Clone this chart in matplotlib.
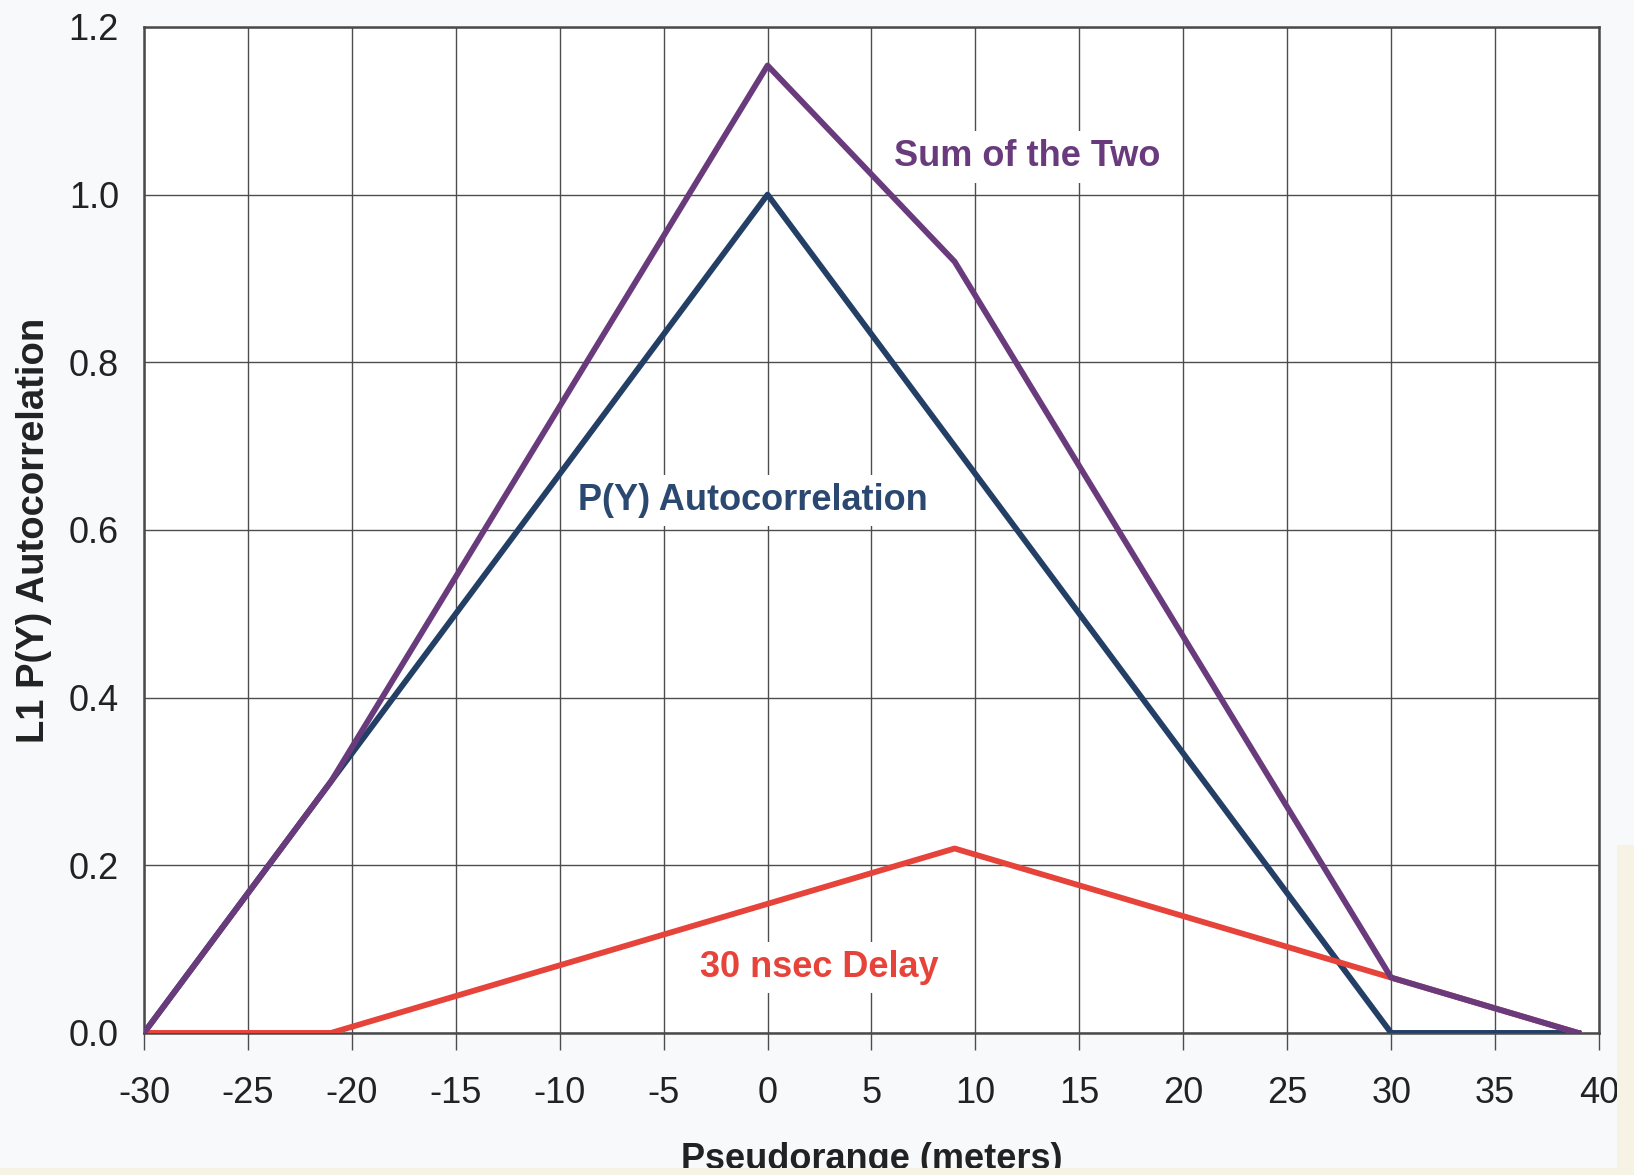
import matplotlib.pyplot as plt
from matplotlib.patches import Rectangle

# breakpoints of the correlation triangles (pseudorange in meters)
x_pts = [-30, -21, 0, 9, 30, 39]
py_corr = [0.0, 0.30, 1.00, 0.70, 0.0, 0.0]
delay_corr = [0.0, 0.0, 0.154, 0.22, 0.066, 0.0]
sum_corr = [a + b for a, b in zip(py_corr, delay_corr)]

x_ticks = list(range(-30, 41, 5))
y_ticks = [0.0, 0.2, 0.4, 0.6, 0.8, 1.0, 1.2]

c_py = '#243f66'
c_delay = '#e6433a'
c_sum = '#6a3b7c'

plt.rcParams['font.family'] = ['Liberation Sans', 'DejaVu Sans']

fig = plt.figure(figsize=(16.34, 11.75), dpi=100)
fig.patch.set_facecolor('#f8f9fb')
ax = fig.add_axes([0.0881, 0.1209, 0.8905, 0.8562])
ax.set_facecolor('white')

ax.plot(x_pts, py_corr, color=c_py, lw=4.2, zorder=3)
ax.plot(x_pts, delay_corr, color=c_delay, lw=4.2, zorder=4)
ax.plot(x_pts, sum_corr, color=c_sum, lw=4.2, zorder=5)

ax.set_xlim(-30, 40)
ax.set_ylim(0, 1.2)
ax.set_xticks(x_ticks)
ax.set_xticklabels([str(t) for t in x_ticks])
ax.set_yticks(y_ticks)
ax.set_yticklabels(['%.1f' % t for t in y_ticks])
ax.grid(True, color='#4d4d4d', lw=1.0, zorder=1)
ax.set_axisbelow(True)
ax.tick_params(axis='x', direction='out', length=12, width=1.0, color='#4d4d4d',
               pad=19, labelsize=26, labelcolor='#222222')
ax.tick_params(axis='y', length=0, pad=18, labelsize=26, labelcolor='#222222')
for s in ax.spines.values():
    s.set_color('#4a4a4a')
    s.set_linewidth(1.8)

ax.set_xlabel('Pseudorange (meters)', fontsize=26, fontweight='bold', color='#222222', labelpad=22)
ax.set_ylabel('L1 P(Y) Autocorrelation', fontsize=27.5, fontweight='bold', color='#222222', labelpad=12)

box = dict(facecolor='white', edgecolor='none', pad=6)
ax.text(12.5, 1.045, 'Sum of the Two', color=c_sum, fontsize=26, fontweight='bold',
        ha='center', va='center', bbox=box, zorder=6)
ax.text(-0.7, 0.635, 'P(Y) Autocorrelation', color='#2b4870', fontsize=26, fontweight='bold',
        ha='center', va='center', bbox=box, zorder=6)
ax.text(2.5, 0.078, '30 nsec Delay', color=c_delay, fontsize=26, fontweight='bold',
        ha='center', va='center', bbox=box, zorder=6)

# scanner edge along the bottom and right side
fig.add_artist(Rectangle((0, 0), 1, 7 / 1175, transform=fig.transFigure,
                         facecolor='#f7f3e4', edgecolor='none', zorder=10))
fig.add_artist(Rectangle((1617 / 1634, 0), 17 / 1634, 330 / 1175, transform=fig.transFigure,
                         facecolor='#f7f3e4', edgecolor='none', zorder=10))

fig.savefig('out.png', dpi=100, facecolor=fig.get_facecolor())
